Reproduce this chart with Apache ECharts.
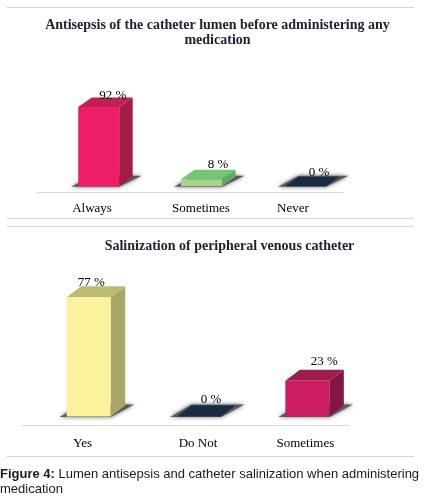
<!DOCTYPE html>
<html><head><meta charset="utf-8">
<style>html,body{margin:0;padding:0;background:#fff}#c{width:427px;height:500px}</style>
<script src="https://cdn.jsdelivr.net/npm/echarts@6/dist/echarts.min.js"></script>
</head><body><div id="c"></div>
<script>
const titleA = 'Antisepsis of the catheter lumen before administering any\nmedication';
const categoriesA = ['Always', 'Sometimes', 'Never'];
const valuesA = [92, 8, 0];
const titleB = 'Salinization of peripheral venous catheter';
const categoriesB = ['Yes', 'Do Not', 'Sometimes'];
const valuesB = [77, 0, 23];
const caption = 'Lumen antisepsis and catheter salinization when administering';

const facesA = [
  {front:'#ED1E67', top:'#C12150', side:'#A31C46'},
  {front:'#A5D58A', top:'#74C476', side:'#62A865'},
  {front:'#1A2A40', top:'#1A2A40', side:'#1A2A40'}];
const facesB = [
  {front:'#FBF39B', top:'#BDBB72', side:'#A8A768'},
  {front:'#1A2A40', top:'#1A2A40', side:'#1A2A40'},
  {front:'#CC1C62', top:'#A01B4D', side:'#821745'}];

// layout nudges, in px, per category
const layoutA = {w:41, dx:13.5, dy:9.5, bar:[10.7,11.5,13.5], lx:[14,16.5,13.5], ly:[1.5,5,4], tick:[4,11,1]};
const layoutB = {w:44, dx:14.5, dy:11, bar:[12,13,12], lx:[2.5,12,17], ly:[4,6,8], tick:[6,12,10]};

function render(faces, L) {
  return function (params, api) {
    const i = api.value(0), v = api.value(1);
    const base = api.coord([i, 0]), top = api.coord([i, v]);
    const x0 = base[0] + L.bar[i] - L.w / 2, x1 = x0 + L.w;
    const yb = base[1], yt = top[1], dx = L.dx, dy = L.dy;
    const f = faces[i];
    const poly = (pts, fill, extra) => ({type:'polygon', shape:{points:pts}, style:Object.assign({fill:fill}, extra||{})});
    return {type:'group', children:[
      poly([[x0-7,yb+0.5],[x1,yb+0.5],[x1+dx+9,yb-dy-1],[x0+dx,yb-dy-1]], '#5a5a5a', {shadowBlur:4, shadowColor:'#666'}),
      poly([[x1,yb],[x1+dx,yb-dy],[x1+dx,yt-dy],[x1,yt]], f.side),
      poly([[x0,yt],[x0+dx,yt-dy],[x1+dx,yt-dy],[x1,yt]], f.top),
      {type:'rect', shape:{x:x0, y:yt, width:L.w, height:yb-yt}, style:{fill:f.front}},
      {type:'text', style:{text:v+' %', x:x0+L.w/2+L.lx[i], y:yt-dy-L.ly[i], align:'center', verticalAlign:'middle',
        font:'13px "Liberation Serif"', fill:'#000'}}
    ]};
  };
}
function cats(list, L) {
  return list.map((c, i) => ({value:c, textStyle:{padding:[0,0,0,L.tick[i]*2]}}));
}
const sep = y => ({type:'line', shape:{x1:7,y1:y,x2:414,y2:y}, style:{stroke:'#d4d4d4', lineWidth:1}});
const axisCommon = {type:'category', axisTick:{show:false},
  axisLine:{onZero:false, lineStyle:{color:'#d9d9d9', width:1}}};
const chart = echarts.init(document.getElementById('c'), null, {renderer:'canvas'});
chart.setOption({
  backgroundColor:'#fff', animation:false,
  title:[
    {text:titleA, left:212.5, top:13, textAlign:'center', textStyle:{fontFamily:'Liberation Serif', fontSize:14, fontWeight:'bold', color:'#222233', lineHeight:15}},
    {text:titleB, left:224.5, top:234, textAlign:'center', textStyle:{fontFamily:'Liberation Serif', fontSize:14, fontWeight:'bold', color:'#222233', lineHeight:15}}
  ],
  grid:[
    {left:37, width:306, top:100, height:92.3},
    {left:22, width:328, top:261.7, height:164}
  ],
  xAxis:[
    Object.assign({gridIndex:0, data:cats(categoriesA, layoutA), axisLabel:{margin:10, interval:0, fontFamily:'Liberation Serif', fontSize:13, color:'#000'}}, axisCommon),
    Object.assign({gridIndex:1, data:cats(categoriesB, layoutB), axisLabel:{margin:11, interval:0, fontFamily:'Liberation Serif', fontSize:13, color:'#000'}}, axisCommon)
  ],
  yAxis:[
    {gridIndex:0, type:'value', min:-7, max:100, show:false},
    {gridIndex:1, type:'value', min:-6, max:100, show:false}
  ],
  series:[
    {type:'custom', xAxisIndex:0, yAxisIndex:0, clip:false, renderItem:render(facesA, layoutA), data:valuesA.map((v,i)=>[i,v])},
    {type:'custom', xAxisIndex:1, yAxisIndex:1, clip:false, renderItem:render(facesB, layoutB), data:valuesB.map((v,i)=>[i,v])}
  ],
  graphic:[
    sep(7.5), sep(218.5), sep(226.5), sep(456.5),
    {type:'text', left:0, top:467, style:{
      text:'{b|Figure 4:} '+caption+'\nmedication',
      rich:{b:{font:'bold 13px "Liberation Sans"', fill:'#1a1a1a', lineHeight:15}},
      font:'13px "Liberation Sans"', fill:'#1a1a1a', lineHeight:15}}
  ]
});
</script></body></html>
